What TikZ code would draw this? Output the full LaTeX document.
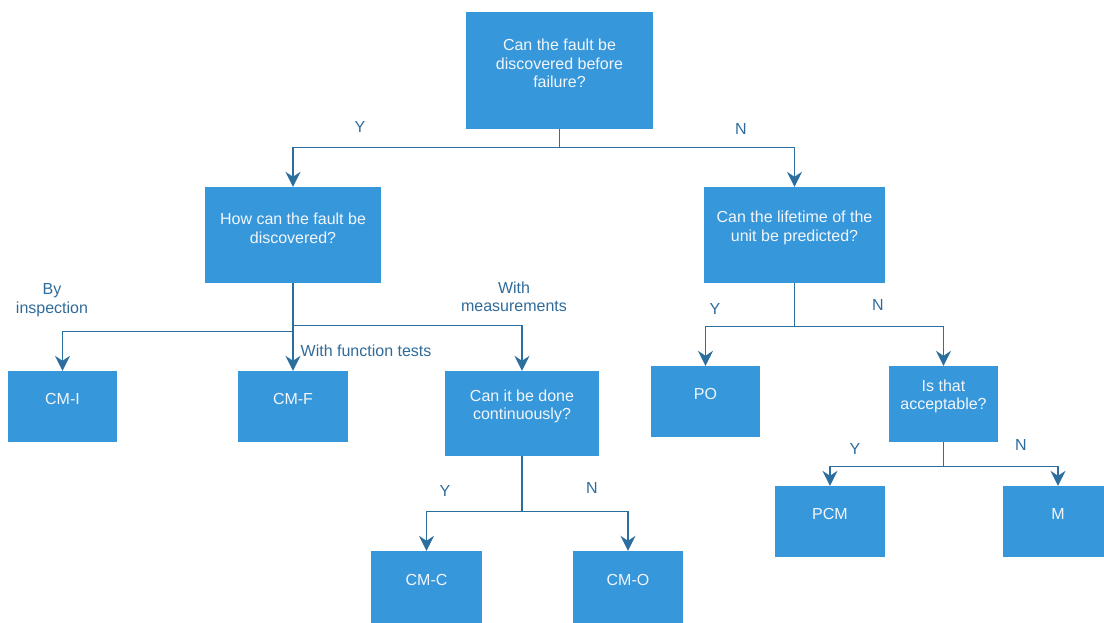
\documentclass[tikz,border=0pt]{standalone}
\usepackage{fontspec}
\setmainfont{Liberation Sans}
\usetikzlibrary{arrows.meta}
\definecolor{boxfill}{HTML}{3797DB}
\definecolor{linecol}{HTML}{2C6E9E}
\definecolor{labelcol}{HTML}{2F6B9A}
\definecolor{boxtextcol}{HTML}{F2F6FA}
\begin{document}
\begin{tikzpicture}[x=1pt,y=-1pt,
  font=\fontsize{16}{18.5}\selectfont,
  box/.style={fill=boxfill, draw=none, inner sep=0pt},
  boxtext/.style={text=boxtextcol, align=center, inner sep=0pt},
  edgelabel/.style={text=labelcol, align=center, inner sep=0pt},
  flow/.style={draw=linecol, line width=1.4pt,
    -{Stealth[length=15pt, width=15pt, inset=5pt]}},
  stem/.style={draw=linecol, line width=1.4pt}]
\useasboundingbox (0,0) rectangle (1104,622);

% decision and outcome boxes
\node[box, minimum width=187pt, minimum height=117pt] (root) at (559.5,70.5) {};
\node[box, minimum width=176pt, minimum height=96pt] (how) at (293,235) {};
\node[box, minimum width=181pt, minimum height=96pt] (life) at (794.5,235) {};
\node[box, minimum width=109pt, minimum height=71pt] (cmi) at (62.5,406.5) {};
\node[box, minimum width=110pt, minimum height=71pt] (cmf) at (293,406.5) {};
\node[box, minimum width=154pt, minimum height=85pt] (cont) at (522,413.5) {};
\node[box, minimum width=111pt, minimum height=72pt] (cmc) at (426.5,587) {};
\node[box, minimum width=110pt, minimum height=72pt] (cmo) at (628,587) {};
\node[box, minimum width=109pt, minimum height=71pt] (po) at (705.5,401.5) {};
\node[box, minimum width=109pt, minimum height=76pt] (acc) at (943.5,404) {};
\node[box, minimum width=110pt, minimum height=71pt] (pcm) at (830,521.5) {};
\node[box, minimum width=110pt, minimum height=71pt] (m) at (1058,521.5) {};

% box captions, set a little above centre
\node[boxtext] (troot) at ([yshift=7pt]root.center) {Can the fault be\\discovered before\\failure?};
\node[boxtext] (thow) at ([yshift=6.5pt]how.center) {How can the fault be\\discovered?};
\node[boxtext] (tlife) at ([yshift=7pt]life.center) {Can the lifetime of the\\unit be predicted?};
\node[boxtext] (tcmi) at ([yshift=7.5pt]cmi.center) {CM-I};
\node[boxtext] (tcmf) at ([yshift=7.5pt]cmf.center) {CM-F};
\node[boxtext] (tcont) at ([yshift=7pt]cont.center) {Can it be done\\continuously?};
\node[boxtext] (tcmc) at ([yshift=7.5pt]cmc.center) {CM-C};
\node[boxtext] (tcmo) at ([yshift=7.5pt]cmo.center) {CM-O};
\node[boxtext] (tpo) at ([yshift=7.5pt]po.center) {PO};
\node[boxtext] (tacc) at ([yshift=7.5pt]acc.center) {Is that\\acceptable?};
\node[boxtext] (tpcm) at ([yshift=7.5pt]pcm.center) {PCM};
\node[boxtext] (tm) at ([yshift=7.5pt]m.center) {M};

% connectors
\draw[flow] (root.south) -- ++(0,18) -| (how.north);
\draw[flow] (root.south) -- ++(0,18) -| (life.north);

\draw[flow] (how.south) -- ++(0,48) -| (cmi.north);
\draw[flow] (how.south) -- (cmf.north);
\draw[flow] (how.south) -- ++(0,42) -| (cont.north);

\draw[flow] (cont.south) -- ++(0,55.5) -| (cmc.north);
\draw[flow] (cont.south) -- ++(0,55.5) -| (cmo.north);

\draw[flow] (life.south) -- ++(0,43) -| (po.north);
\draw[flow] (life.south) -- ++(0,43) -| (acc.north);

\draw[flow] (acc.south) -- ++(0,24) -| (pcm.north);
\draw[flow] (acc.south) -- ++(0,24) -| (m.north);

% branch labels
\node[edgelabel] (ly1) at (360,127) {Y};
\node[edgelabel] (ln1) at (741,129) {N};
\node[edgelabel] (lins) at (52,300) {By\\inspection};
\node[edgelabel] (lmea) at (514,297) {With\\measurements};
\node[edgelabel, anchor=west] (lfun) at (300.5,351) {With function tests};
\node[edgelabel] (ly2) at (445,491) {Y};
\node[edgelabel] (ln2) at (592,488) {N};
\node[edgelabel] (ly3) at (715,309) {Y};
\node[edgelabel] (ln3) at (878,305) {N};
\node[edgelabel] (ly4) at (855,449) {Y};
\node[edgelabel] (ln4) at (1021,445) {N};
\end{tikzpicture}
\end{document}
